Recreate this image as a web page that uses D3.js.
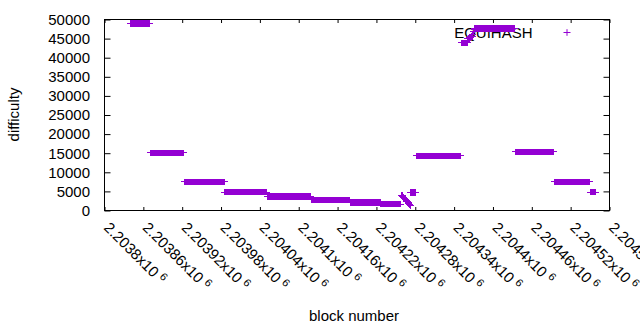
<!DOCTYPE html>
<html>
<head>
<meta charset="utf-8">
<script src="https://cdn.jsdelivr.net/npm/d3@7"></script>
<style>
  body{margin:0;background:#fff;}
  text{font-family:"Liberation Sans",Arial,sans-serif;fill:#000;}
</style>
</head>
<body>
<div id="chart"></div>
<script>
// flat runs of blocks with the same difficulty
let runStart=[2203840,2203871,2203924,2203986,2204052,2204119,2204180,2204227,2204273,2204282,2204351,2204372,2204435,2204495,2204551]
let runEnd=[2203869,2203922,2203985,2204050,2204118,2204178,2204226,2204257,2204280,2204350,2204360,2204433,2204493,2204549,2204559]
let runDiff=[49000,15100,7500,4800,3600,2800,2150,1700,4650,14300,43900,47700,15350,7500,4820]
// single blocks where the difficulty moves block by block
let stepBlock=[2204259,2204260,2204261,2204262,2204263,2204264,2204265,2204266,2204267,2204268,2204269,2204270,2204271,2204272,
  2204361,2204362,2204363,2204364,2204365,2204366,2204367,2204368,2204369,2204370,2204371]
let stepDiff=[4050,3850,3650,3450,3250,3050,2850,2650,2450,2250,2050,1850,1600,1350,
  44900,45000,45100,45200,45300,45400,45500,45600,46200,46800,47300]
let xTicks=[2203800,2203860,2203920,2203980,2204040,2204100,2204160,2204220,2204280,2204340,2204400,2204460,2204520,2204580]
let xTickText=['2.2038','2.20386','2.20392','2.20398','2.20404','2.2041','2.20416','2.20422','2.20428','2.20434','2.2044','2.20446','2.20452','2.20458']
let yTicks=[0,5000,10000,15000,20000,25000,30000,35000,40000,45000,50000]

let w=640,h=330
let padL=104.5,padR=609.5,padT=19.5,padB=210.5
let color='#9400d3'

let points=[]
runStart.forEach((s,i)=>{
  for(let b=s;b<=runEnd[i];b++) points.push({block:b,diff:runDiff[i]})
})
stepBlock.forEach((b,i)=>points.push({block:b,diff:stepDiff[i]}))

let x=d3.scaleLinear().domain([2203800,2204580]).range([padL,padR])
let y=d3.scaleLinear().domain([0,50000]).range([padB,padT])

let svg=d3.select('#chart').append('svg').attr('width',w).attr('height',h)

// axes, ticks point inward like gnuplot
let xAxis=d3.axisBottom(x).tickValues(xTicks).tickSizeInner(-3.5).tickSizeOuter(0)
let gx=svg.append('g').attr('transform','translate(0,'+padB+')').call(xAxis)
gx.selectAll('text').each(function(d,i){
  let t=d3.select(this).text(null).attr('y',null).attr('dy',null)
    .attr('text-anchor','start').attr('transform','translate(-2,18) rotate(45)')
  t.append('tspan').text(xTickText[i]+'x10')
  t.append('tspan').attr('dx',4).attr('dy',-5).style('font-size','11px').text('6')
})
svg.append('g').attr('transform','translate(0,'+padT+')')
  .call(d3.axisTop(x).tickValues(xTicks).tickSizeInner(-3.5).tickSizeOuter(0).tickFormat(''))
let gy=svg.append('g').attr('transform','translate('+padL+',0)')
  .call(d3.axisLeft(y).tickValues(yTicks).tickSizeInner(-6).tickSizeOuter(0).tickPadding(14.5).tickFormat(d3.format('d')))
svg.append('g').attr('transform','translate('+padR+',0)')
  .call(d3.axisRight(y).tickValues(yTicks).tickSizeInner(-6).tickSizeOuter(0).tickFormat(''))
svg.selectAll('.domain').remove()
svg.selectAll('.tick line').attr('stroke','#000')
svg.selectAll('.tick text').style('font-size','15px').style('font-family','"Liberation Sans",Arial,sans-serif')

svg.append('rect').attr('x',padL).attr('y',padT).attr('width',padR-padL).attr('height',padB-padT)
  .attr('fill','none').attr('stroke','#000')

svg.append('text').attr('transform','translate(19,114.5) rotate(-90)').attr('text-anchor','middle')
  .style('font-size','15px').text('difficulty')
svg.append('text').attr('x',354).attr('y',321).attr('text-anchor','middle')
  .style('font-size','15px').text('block number')

// key
svg.append('text').attr('x',532.5).attr('y',37.5).attr('text-anchor','end')
  .style('font-size','15px').text('EQUIHASH')
let plus=(cx,cy)=>'M'+(cx-3.5)+','+cy+'h7M'+cx+','+(cy-3.3)+'v6.6'
svg.append('path').attr('d',plus(567,32.5)).attr('stroke',color).attr('fill','none')

svg.append('g').attr('shape-rendering','crispEdges').selectAll('path').data(points).enter().append('path')
  .attr('d',d=>plus(x(d.block),y(d.diff)))
  .attr('stroke',color).attr('fill','none').attr('stroke-width',1)
</script>
</body>
</html>
